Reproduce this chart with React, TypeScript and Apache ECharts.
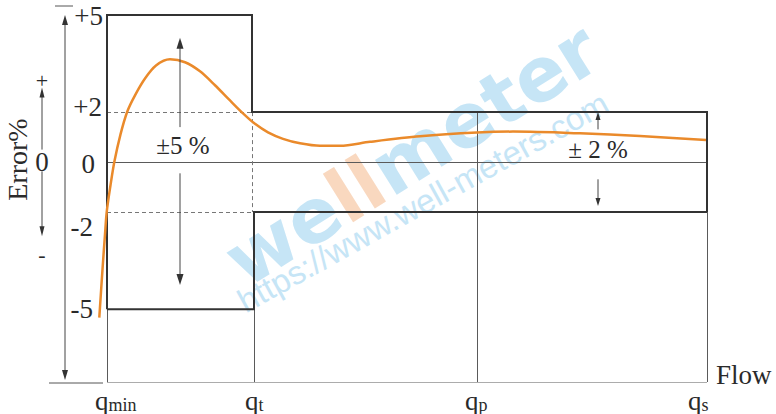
import React, { useEffect, useRef } from "react";
import * as echarts from "echarts";

// ---- data (flow in arbitrary schematic units, error in %) ----
const Q_TICKS = [0, 145, 370, 600]; // qmin, qt, qp, qs
const Q_MAIN = ["q", "q", "q", "q"];
const Q_SUB = ["min", "t", "p", "s"];
const Y_TICKS = [5, 2, 0, -2, -5];
const Y_LABELS = ["+5", "+2", "0", "-2", "-5"];
const BOTTOM_ERR = -7.25; // error level at the flow axis (schematic)
const QT_LOW = 147;

const UPPER_PATH = [[0, -5], [0, 5], [145, 5], [145, 2], [600, 2], [600, -2]];
const LOWER_PATH = [[0, -5], [QT_LOW, -5], [QT_LOW, -2], [600, -2]];

const CURVE_X = [-7.7, -4.5, -2, -0.3, 3.5, 7.3, 13.5, 20.3, 28, 38, 49, 63, 78, 93, 108, 123, 136, 148, 161, 176, 193, 213, 233, 263, 313, 370, 406, 473, 533, 599];
const CURVE_ERR = [-5.26, -3.77, -2.69, -2.0, -0.93, 0, 1.11, 2.02, 2.52, 3.04, 3.44, 3.63, 3.54, 3.26, 2.83, 2.36, 1.95, 1.53, 1.19, 0.93, 0.75, 0.65, 0.65, 0.81, 1.03, 1.18, 1.22, 1.15, 1.04, 0.88];

const ARROW5_X = 73;
const ARROW5_UP = [1.4, 4.3];
const ARROW5_DOWN = [-0.45, -4.25];
const ARROW2_X = 491;
const ARROW2_UP = [1.31, 2.0];
const ARROW2_DOWN = [-0.69, -1.76];

const WM_LETTERS = ["w", "e", "l", "l", "m", "e", "t", "e", "r"];
const WM_ORANGE = [false, false, true, true, false, false, false, false, false];
const WM_ADV = { w: 0.924, e: 0.678, l: 0.343, m: 1.042, t: 0.478, r: 0.493 } as Record<string, number>;

const K = 1.296; // schematic axis: outer band (|e|>2) drawn with a larger scale
function disp(e: number): number {
  const a = Math.abs(e);
  return a <= 2 ? e : Math.sign(e) * (2 + (a - 2) * K);
}

const SERIF = "'Liberation Serif', 'DejaVu Serif', serif";
const SANS = "'DejaVu Sans', 'Liberation Sans', sans-serif";
const DARK = "#333333";
const THIN = "#5a5a5a";

export default function App() {
  const ref = useRef<HTMLDivElement>(null);
  useEffect(() => {
    document.body.style.margin = "0";
    const chart = echarts.init(ref.current!, null, { renderer: "svg" });
    const P = (p: number[]) => [p[0], disp(p[1])];
    const B = BOTTOM_ERR;
    const thinSegs = [
      [[0, 0], [600, 0]],
      [[0, B], [600, B]],
      [[0, -5], [0, B]],
      [[QT_LOW, -5], [QT_LOW, B]],
      [[Q_TICKS[2], 2], [Q_TICKS[2], B]],
      [[600, -2], [600, B]],
    ];
    const dashSegs = [
      [[0, 2], [145, 2]],
      [[0, -2], [145, -2]],
      [[145, 2], [145, -2]],
    ];
    chart.setOption({
      animation: false,
      grid: { left: 97, right: 69, top: 15, bottom: 32 },
      xAxis: { type: "value", min: -10, max: 600, show: false },
      yAxis: { type: "value", min: disp(BOTTOM_ERR), max: disp(5), show: false },
      series: [
        {
          type: "lines",
          coordinateSystem: "cartesian2d",
          polyline: false,
          silent: true,
          z: 3,
          lineStyle: { color: THIN, width: 1, opacity: 1, curveness: 0 },
          data: thinSegs.map((s) => ({ coords: s.map(P) })),
        },
        {
          type: "lines",
          coordinateSystem: "cartesian2d",
          polyline: false,
          silent: true,
          z: 3,
          lineStyle: { color: "#777", width: 1, opacity: 1, type: [4, 3], curveness: 0 },
          data: dashSegs.map((s) => ({ coords: s.map(P) })),
        },
        {
          type: "lines",
          coordinateSystem: "cartesian2d",
          polyline: true,
          silent: true,
          z: 4,
          lineStyle: { color: DARK, width: 2, opacity: 1 },
          data: [{ coords: UPPER_PATH.map(P) }, { coords: LOWER_PATH.map(P) }],
        },
        {
          type: "line",
          data: CURVE_X.map((x, i) => [x, disp(CURVE_ERR[i])]),
          smooth: 0.3,
          showSymbol: false,
          clip: false,
          silent: true,
          z: 6,
          lineStyle: { color: "#EA8A2B", width: 2.5 },
        },
      ],
    });

    const px = (x: number, e: number) => chart.convertToPixel({ gridIndex: 0 }, [x, disp(e)]) as number[];
    const pxd = (x: number, d: number) => chart.convertToPixel({ gridIndex: 0 }, [x, d]) as number[];
    const bottomY = pxd(0, disp(BOTTOM_ERR))[1];
    const g: any[] = [];
    const line = (x1: number, y1: number, x2: number, y2: number, c = "#444", w = 1) =>
      g.push({ type: "line", z: 20, silent: true, shape: { x1, y1, x2, y2 }, style: { stroke: c, lineWidth: w } });
    const head = (x: number, y: number, dir: number, len: number, w: number) =>
      g.push({
        type: "polygon",
        z: 20,
        silent: true,
        shape: { points: [[x, y], [x - w / 2, y - dir * len], [x + w / 2, y - dir * len]] },
        style: { fill: "#333" },
      });
    const text = (t: string, x: number, y: number, size: number, align = "center", extra: any = {}) =>
      g.push({
        type: "text",
        z: extra.z !== undefined ? extra.z : 20,
        silent: true,
        x,
        y,
        rotation: extra.rotation || 0,
        style: {
          text: t,
          font: (extra.fontWeight ? extra.fontWeight + " " : "") + size + "px " + (extra.fontFamily || SERIF),
          fontSize: size,
          fontWeight: extra.fontWeight,
          fontFamily: extra.fontFamily || SERIF,
          fill: extra.fill || "#2a2a2a",
          align,
          textAlign: align,
          verticalAlign: "middle",
          textVerticalAlign: "middle",
          rich: extra.rich,
        },
      });

    // watermark "wellmeter" (letter by letter along a rotated baseline)
    const wmSize = 75;
    const ang = (32 * Math.PI) / 180;
    const wm = px(305, 0.3);
    const total = WM_LETTERS.reduce((s, c) => s + WM_ADV[c] * wmSize, 0);
    let acc = 0;
    WM_LETTERS.forEach((c, i) => {
      const w = WM_ADV[c] * wmSize;
      const s = acc + w / 2 - total / 2;
      acc += w;
      text(c, wm[0] + s * Math.cos(ang), wm[1] - s * Math.sin(ang), wmSize, "center", {
        z: 0,
        rotation: ang,
        fontWeight: "bold",
        fontFamily: SANS,
        fill: WM_ORANGE[i] ? "#f9d8bf" : "#c6e5f6",
      });
    });
    const wu = px(316, -1.6);
    text("https://www.well-meters.com", wu[0], wu[1], 33, "center", {
      z: 0,
      rotation: (29 * Math.PI) / 180,
      fontFamily: "'Liberation Sans', Arial, sans-serif",
      fill: "#c6e5f6",
    });

    // ±5 % arrows
    const a5u0 = px(ARROW5_X, ARROW5_UP[0]), a5u1 = px(ARROW5_X, ARROW5_UP[1]);
    line(a5u0[0], a5u0[1], a5u1[0], a5u1[1] + 8);
    head(a5u1[0], a5u1[1], -1, 11, 7);
    const a5d0 = px(ARROW5_X, ARROW5_DOWN[0]), a5d1 = px(ARROW5_X, ARROW5_DOWN[1]);
    line(a5d0[0], a5d0[1], a5d1[0], a5d1[1] - 8);
    head(a5d1[0], a5d1[1], 1, 11, 7);
    const t5 = px(ARROW5_X + 3, 0.65);
    text("±5 %", t5[0], t5[1], 25);
    // ± 2 % arrows
    const a2u0 = px(ARROW2_X, ARROW2_UP[0]), a2u1 = px(ARROW2_X, ARROW2_UP[1]);
    line(a2u0[0], a2u0[1], a2u1[0], a2u1[1] + 6);
    head(a2u1[0], a2u1[1], -1, 8, 5);
    const a2d0 = px(ARROW2_X, ARROW2_DOWN[0]), a2d1 = px(ARROW2_X, ARROW2_DOWN[1]);
    line(a2d0[0], a2d0[1], a2d1[0], a2d1[1] - 6);
    head(a2d1[0], a2d1[1], 1, 8, 5);
    const t2 = px(ARROW2_X, 0.52);
    text("± 2 %", t2[0], t2[1], 25);

    // Error axis arrow (left)
    const ea = px(-42, 5);
    line(ea[0], ea[1] + 8, ea[0], bottomY - 9);
    head(ea[0], ea[1], -1, 10, 6);
    head(ea[0], bottomY - 2, 1, 10, 6);
    line(ea[0] - 10, ea[1] - 9, ea[0] + 8, ea[1] - 9, "#555");
    const gl = px(0, 0)[0];
    line(gl - 58, bottomY + 1, gl - 4, bottomY + 1, "#555");
    // inner + / 0 / - arrow
    const sx = px(-65, 0)[0];
    const su0 = px(-65, 0.5), su1 = px(-65, 2.76);
    line(sx, su0[1], sx, su1[1] + 8);
    head(sx, su1[1], -1, 10, 5);
    const sd0 = px(-65, -0.37), sd1 = px(-65, -2.75);
    line(sx, sd0[1], sx, sd1[1] - 8);
    head(sx, sd1[1], 1, 10, 5);
    text("+", sx, su1[1] - 7, 22);
    text("0", sx, px(-65, 0)[1], 27);
    text("-", sx, sd1[1] + 18, 22);
    text("Error%", 17, px(-65, 0.1)[1], 28, "center", { rotation: Math.PI / 2 });

    // y tick labels
    const yDx = [-4, -5, -12, -14, -14];
    const yDy = [1, -5, 2, 15, 0];
    Y_TICKS.forEach((v, i) => {
      const p = px(0, v);
      text(Y_LABELS[i], p[0] + yDx[i], p[1] + yDy[i], 27, "right");
    });
    // x tick labels
    const xDx = [-12, -7, -12, -19];
    Q_TICKS.forEach((v, i) => {
      const p = px(v, 0);
      text("{q|" + Q_MAIN[i] + "}{s|" + Q_SUB[i] + "}", p[0] + xDx[i], bottomY + 17, 26, "left", {
        rich: {
          q: { fontSize: 27, fontFamily: SERIF, fill: "#2a2a2a", lineHeight: 30, verticalAlign: "bottom" },
          s: { fontSize: 18, fontFamily: SERIF, fill: "#2a2a2a", lineHeight: 16, verticalAlign: "bottom" },
        },
      });
    });
    text("Flow", px(600, 0)[0] + 9, bottomY - 7, 27, "left");

    chart.setOption({ graphic: g });
    return () => chart.dispose();
  }, []);
  return <div ref={ref} style={{ width: 776, height: 414 }} />;
}
